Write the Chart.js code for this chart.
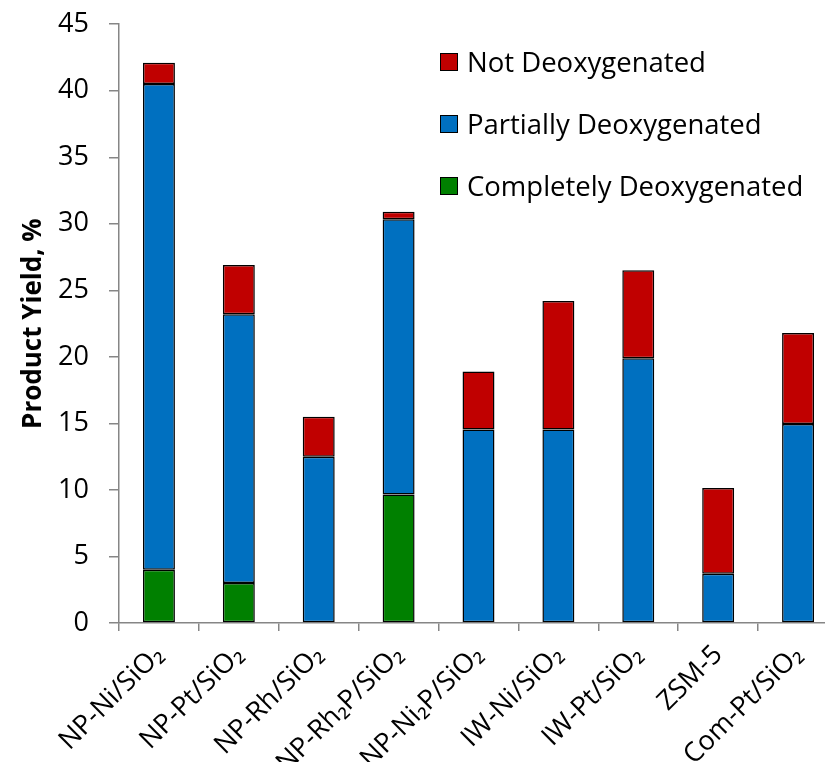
<!DOCTYPE html>
<html>
<head>
<meta charset="utf-8">
<script src="https://cdn.jsdelivr.net/npm/chart.js@4"></script>
<style>
  html, body { margin: 0; padding: 0; background: #fff; overflow: hidden; }
  #wrap { position: relative; width: 840px; height: 800px; margin-top: -12px; }
  #legend { position: absolute; left: 440px; top: 56px; font-family: "Open Sans", sans-serif; font-size: 27.5px; color: #000; }
  #legend div { height: 62px; line-height: 36px; display: flex; align-items: flex-start; white-space: nowrap; }
  #legend span.box { display: inline-block; box-sizing: border-box; width: 18px; height: 18px; border: 1.5px solid #000; margin: 9px 9px 0 0; }
</style>
</head>
<body>
<div id="wrap">
  <canvas id="myChart" width="840" height="800"></canvas>
  <div id="legend"></div>
</div>
<script>
const categories = ['NP-Ni/SiO₂', 'NP-Pt/SiO₂', 'NP-Rh/SiO₂', 'NP-Rh₂P/SiO₂', 'NP-Ni₂P/SiO₂', 'IW-Ni/SiO₂', 'IW-Pt/SiO₂', 'ZSM-5', 'Com-Pt/SiO₂'];
const completely = [4.0, 3.0, 0, 9.65, 0, 0, 0, 0, 0];
const partially = [36.5, 20.2, 12.5, 20.7, 14.55, 14.55, 19.9, 3.7, 14.95];
const notDeox = [1.6, 3.7, 3.0, 0.55, 4.35, 9.65, 6.6, 6.45, 6.85];
const yTicks = [0, 5, 10, 15, 20, 25, 30, 35, 40, 45];

const seriesNames = ['Completely Deoxygenated', 'Partially Deoxygenated', 'Not Deoxygenated'];
const seriesColors = ['#008000', '#0070C0', '#C00000'];

const FONT = '"Open Sans", sans-serif';
const ctx = document.getElementById('myChart').getContext('2d');

const datasets = [completely, partially, notDeox].map((vals, i) => ({
    label: seriesNames[i],
    data: vals,
    backgroundColor: seriesColors[i],
    borderColor: '#000',
    borderWidth: 1.5,
    borderSkipped: false,
    categoryPercentage: 1,
    barPercentage: 0.4
}));

// canvas is shifted up 12px, so the plot bottom sits at 635 in canvas coords
let myChart = new Chart(ctx, {
    type: 'bar',
    data: { labels: categories, datasets: datasets },
    options: {
        responsive: false,
        animation: false,
        layout: { padding: { top: 0, right: 2, left: 0, bottom: 0 } },
        plugins: { legend: { display: false }, tooltip: { enabled: false } },
        scales: {
            x: {
                stacked: true,
                grid: { display: true, drawOnChartArea: false, offset: true, color: '#868686', tickLength: 8, lineWidth: 1.5 },
                border: { color: '#868686', width: 1.5 },
                ticks: { color: '#000', font: { family: FONT, size: 27 }, minRotation: 45, maxRotation: 45, padding: 8 },
                afterFit: (s) => { s.height = 165; }
            },
            y: {
                stacked: true,
                min: 0,
                max: 45,
                afterBuildTicks: (s) => { s.ticks = yTicks.map(v => ({ value: v })); },
                grid: { display: true, drawOnChartArea: false, color: '#868686', tickLength: 10, lineWidth: 1.5 },
                border: { color: '#868686', width: 1.5 },
                ticks: { color: '#000', font: { family: FONT, size: 27 }, padding: 20 },
                title: { display: true, text: 'Product Yield, %', color: '#000', font: { family: FONT, size: 26, weight: 'bold' }, padding: 18 },
                afterFit: (s) => { s.width = 119; }
            }
        }
    }
});

const legendEl = document.getElementById('legend');
for (let i = seriesNames.length - 1; i >= 0; i--) {
    const row = document.createElement('div');
    row.innerHTML = '<span class="box" style="background:' + seriesColors[i] + '"></span>' + seriesNames[i];
    legendEl.appendChild(row);
}
</script>
</body>
</html>
